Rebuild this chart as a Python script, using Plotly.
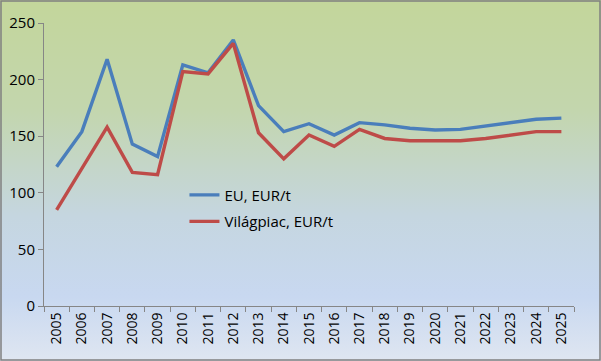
import base64
import plotly.graph_objects as go

years = [str(y) for y in range(2005, 2026)]
eu = [123, 154, 218, 143, 132, 213, 206, 235, 177, 154, 161, 151, 162, 160, 157, 155.5, 156, 159, 162, 165, 166]
world = [85, 122, 158, 118, 116, 207, 205, 232, 153, 130, 151, 141, 156, 148, 146, 146, 146, 148, 151, 154, 154]
y_ticks = [0, 50, 100, 150, 200, 250]

fig = go.Figure()
fig.add_trace(go.Scatter(x=years, y=eu, mode="lines", name="EU, EUR/t",
                         line=dict(color="#4a7ebb", width=3.4), legendgroup="a"))
fig.add_trace(go.Scatter(x=years, y=world, mode="lines", name="Világpiac, EUR/t",
                         line=dict(color="#be4b48", width=3.4), legendgroup="b"))

# vertical gradient background (SVG image stretched over the whole figure)
svg = ('<svg xmlns="http://www.w3.org/2000/svg" width="601" height="361">'
       '<defs><linearGradient id="g" x1="0" y1="0" x2="0" y2="1">'
       '<stop offset="0" stop-color="#c3d69b"/>'
       '<stop offset="0.3" stop-color="#c3d6ad"/>'
       '<stop offset="0.6" stop-color="#c5d6e0"/>'
       '<stop offset="0.82" stop-color="#c8d8f0"/>'
       '<stop offset="1" stop-color="#dfe6f1"/>'
       '</linearGradient></defs>'
       '<rect width="601" height="361" fill="url(#g)"/></svg>')
src = "data:image/svg+xml;base64," + base64.b64encode(svg.encode()).decode()
L, R, T, B = 44, 27, 23, 55
pw, ph = 601 - L - R, 361 - T - B
fig.add_layout_image(dict(source=src, xref="paper", yref="paper",
                          x=-L / pw, y=1 + T / ph, sizex=601 / pw, sizey=361 / ph,
                          xanchor="left", yanchor="top", sizing="stretch", layer="below"))

font = "Open Sans, DejaVu Sans, sans-serif"
fig.update_layout(
    width=601, height=361,
    margin=dict(l=L, r=R, t=T, b=B, autoexpand=False),
    paper_bgcolor="#c6d6c8", plot_bgcolor="rgba(0,0,0,0)",
    font=dict(family=font, size=14, color="#000"),
    showlegend=True,
    legend=dict(x=0.265, y=0.45, xanchor="left", yanchor="top",
                bgcolor="rgba(0,0,0,0)", font=dict(size=15, family=font),
                tracegroupgap=4),
    xaxis=dict(type="category", range=[-0.5, 20.5], tickangle=-90,
               showline=True, linecolor="#868686", linewidth=1,
               ticks="outside", tickson="boundaries", ticklen=5, tickcolor="#868686",
               showgrid=False, tickfont=dict(size=14), automargin=False),
    yaxis=dict(range=[0, 250], tickvals=y_ticks, showline=True, linecolor="#868686",
               linewidth=1, ticks="outside", ticklen=5, tickcolor="#868686",
               showgrid=False, zeroline=False, tickfont=dict(size=15), automargin=False),
)
# outer frame
fig.add_shape(type="rect", xref="paper", yref="paper",
              x0=-(L - 1) / pw, x1=1 + (R - 1) / pw,
              y0=-(B - 1) / ph, y1=1 + (T - 1) / ph,
              line=dict(color="#808080", width=1.5), layer="above")
fig.write_html("out.html", config={"displayModeBar": False},
               post_script="document.body.style.margin='0';")
